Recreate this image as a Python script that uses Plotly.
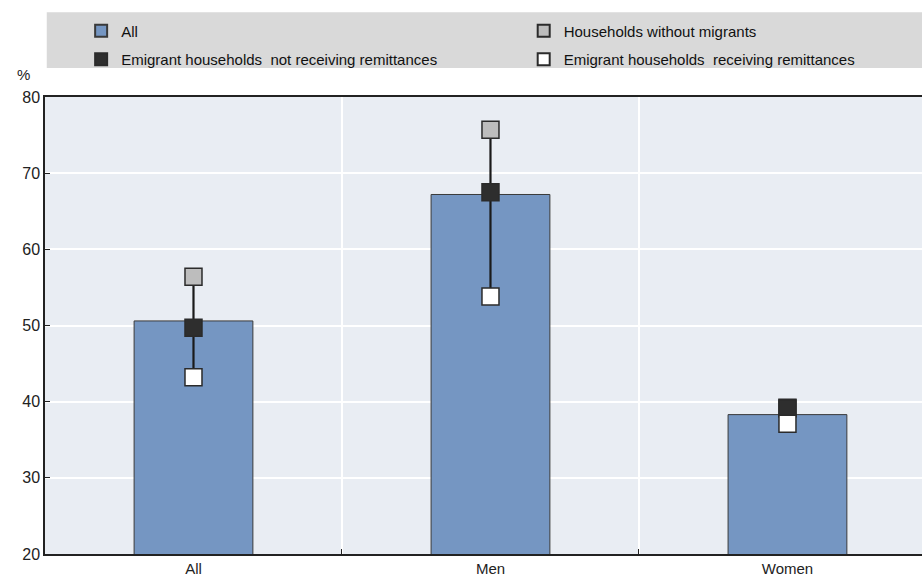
import plotly.graph_objects as go

categories = ["All", "Men", "Women"]
all_values = [50.6, 67.2, 38.3]
without_migrants = [56.4, 75.7, 39.2]
not_receiving = [49.7, 67.5, 39.1]
receiving = [43.2, 53.8, 37.1]

FONT = "Liberation Sans, Arial, sans-serif"

fig = go.Figure()
fig.add_trace(go.Bar(
    x=categories, y=all_values, name="All", width=0.40,
    legend="legend", legendgroup="a",
    marker=dict(color="#7596C2", line=dict(color="#3a3a3a", width=1)),
))
lx, ly = [], []
for i, c in enumerate(categories):
    vals = [without_migrants[i], not_receiving[i], receiving[i]]
    lx += [c, c, None]
    ly += [max(vals), min(vals), None]
fig.add_trace(go.Scatter(x=lx, y=ly, mode="lines", showlegend=False,
                         line=dict(color="#1a1a1a", width=2.2), hoverinfo="skip"))

def mk(name, vals, color, legend, group):
    fig.add_trace(go.Scatter(
        x=categories, y=vals, name=name, mode="markers",
        legend=legend, legendgroup=group,
        marker=dict(symbol="square", size=17, color=color,
                    line=dict(color="#2b2b2b", width=1.5)),
    ))

mk("Households without migrants", without_migrants, "#BDBDBD", "legend2", "b")
mk("Emigrant households  not receiving remittances", not_receiving, "#2E2E2E", "legend", "c")
mk("Emigrant households  receiving remittances", receiving, "#FFFFFF", "legend2", "d")

leg_common = dict(
    orientation="v", xref="container", yref="container",
    xanchor="left", y=0.975, yanchor="top",
    bgcolor="rgba(0,0,0,0)", itemsizing="constant", itemwidth=30,
    font=dict(family=FONT, size=15, color="#111"),
    tracegroupgap=6, traceorder="grouped",
)

fig.update_layout(
    width=922, height=579,
    margin=dict(l=45, r=0, t=97, b=25, autoexpand=False),
    paper_bgcolor="white", plot_bgcolor="#E9EDF3",
    font=dict(family=FONT, size=15, color="#222"),
    showlegend=True,
    legend=dict(x=0.088, **leg_common),
    legend2=dict(x=0.568, **leg_common),
    shapes=[dict(type="rect", xref="paper", yref="paper", x0=0.002, x1=1.0,
                 y0=1.0633, y1=1.1856,
                 fillcolor="#D9D9D9", line=dict(width=0), layer="below")],
    annotations=[dict(text="%", xref="paper", yref="paper", x=-0.024, y=1.027,
                      xanchor="center", yanchor="bottom", showarrow=False,
                      font=dict(family=FONT, size=15, color="#222"))],
)
fig.update_xaxes(
    type="category", range=[-0.5, 2.453], tickson="boundaries",
    ticks="inside", ticklen=5, tickcolor="#222",
    showgrid=True, gridcolor="white", gridwidth=1.5,
    showline=True, linecolor="#222", linewidth=1.5, mirror=True,
    tickfont=dict(family=FONT, size=15, color="#222"),
)
fig.update_yaxes(
    range=[20, 80], dtick=10, ticks="inside", ticklen=5, tickcolor="#222",
    showgrid=True, gridcolor="white", gridwidth=1.5,
    showline=True, linecolor="#222", linewidth=1.5, mirror=True,
    tickfont=dict(family=FONT, size=16, color="#222"), zeroline=False,
)
fig.write_html("out.html", post_script="document.body.style.margin='0px';",
               config={"displayModeBar": False})
